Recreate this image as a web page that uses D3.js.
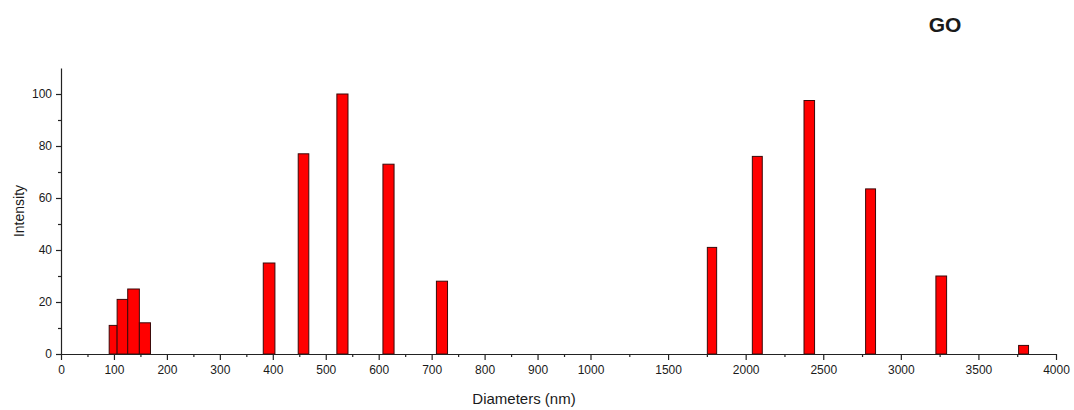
<!DOCTYPE html>
<html>
<head>
<meta charset="utf-8">
<script src="https://cdn.jsdelivr.net/npm/d3@7"></script>
<style>
  body { margin: 0; background: #fff; }
  svg { display: block; }
  text { font-family: "Liberation Sans", Arial, sans-serif; fill: #1a1a1a; }
</style>
</head>
<body>
<svg id="chart" width="1074" height="410"></svg>
<script>
// ---- data ----
const binLo = [91, 106, 126, 148, 382, 448, 521, 608, 709, 1753, 2043, 2376, 2773, 3226, 3759];
const binHi = [106, 126, 148, 169, 404, 468, 542, 629, 730, 1813, 2107, 2444, 2837, 3295, 3823];
const intensity = [11, 21, 25, 12, 35, 77, 100, 73, 28, 41, 76, 97.5, 63.5, 30, 3.3];
const xTickValues = [0, 100, 200, 300, 400, 500, 600, 700, 800, 900, 1000, 1500, 2000, 2500, 3000, 3500, 4000];
const xTickLabels = ["0", "100", "200", "300", "400", "500", "600", "700", "800", "900", "1000", "1500", "2000", "2500", "3000", "3500", "4000"];
const yTickValues = [0, 20, 40, 60, 80, 100];
const yMinorValues = [10, 30, 50, 70, 90];
const title = "GO";
const xTitle = "Diameters (nm)";
const yTitle = "Intensity";

// ---- layout ----
const svg = d3.select("#chart");
const x = d3.scaleLinear().domain([0, 1000, 4000]).range([61, 590.5, 1056]);
const y = d3.scaleLinear().domain([0, 110]).range([354, 68]);

const xMinor = [];
for (let i = 0; i < xTickValues.length - 1; i++) xMinor.push((xTickValues[i] + xTickValues[i + 1]) / 2);

// bars
const bars = binLo.map((lo, i) => ({ lo, hi: binHi[i], v: intensity[i] }));
svg.append("g").selectAll("rect").data(bars).join("rect")
  .attr("x", d => x(d.lo))
  .attr("y", d => y(d.v))
  .attr("width", d => x(d.hi) - x(d.lo))
  .attr("height", d => y(0) - y(d.v))
  .attr("fill", "#ff0000")
  .attr("stroke", "#3a0a0a")
  .attr("stroke-width", 1);

// x axis
const gx = svg.append("g").attr("transform", `translate(0,${y(0)})`);
gx.call(d3.axisBottom(x).tickValues(xTickValues).tickSize(6).tickSizeOuter(0)
  .tickFormat((d, i) => xTickLabels[i]));
gx.selectAll("text").attr("font-size", 12).attr("font-family", "Liberation Sans, Arial, sans-serif").attr("fill", "#1a1a1a").attr("dy", "0.9em");
const gxm = svg.append("g").attr("transform", `translate(0,${y(0)})`);
gxm.call(d3.axisBottom(x).tickValues(xMinor).tickSize(3).tickSizeOuter(0).tickFormat(""));
gxm.select(".domain").remove();

// y axis
const gy = svg.append("g").attr("transform", `translate(${x(0)},0)`);
gy.call(d3.axisLeft(y).tickValues(yTickValues).tickSize(5).tickSizeOuter(0));
gy.selectAll("text").attr("font-size", 12).attr("font-family", "Liberation Sans, Arial, sans-serif").attr("fill", "#1a1a1a").attr("x", -9);
const gym = svg.append("g").attr("transform", `translate(${x(0)},0)`);
gym.call(d3.axisLeft(y).tickValues(yMinorValues).tickSize(3).tickSizeOuter(0).tickFormat(""));
gym.select(".domain").remove();

svg.selectAll(".domain, .tick line").attr("stroke", "#222").attr("stroke-width", 1.2);

// titles
svg.append("text").attr("x", 524).attr("y", 404).attr("text-anchor", "middle")
  .attr("font-size", 15).text(xTitle);
svg.append("text").attr("transform", "translate(24,211) rotate(-90)").attr("text-anchor", "middle")
  .attr("font-size", 14).text(yTitle);
svg.append("text").attr("x", 945).attr("y", 32).attr("text-anchor", "middle")
  .attr("font-size", 21).attr("font-weight", "bold").attr("fill", "#000").text(title);
</script>
</body>
</html>
